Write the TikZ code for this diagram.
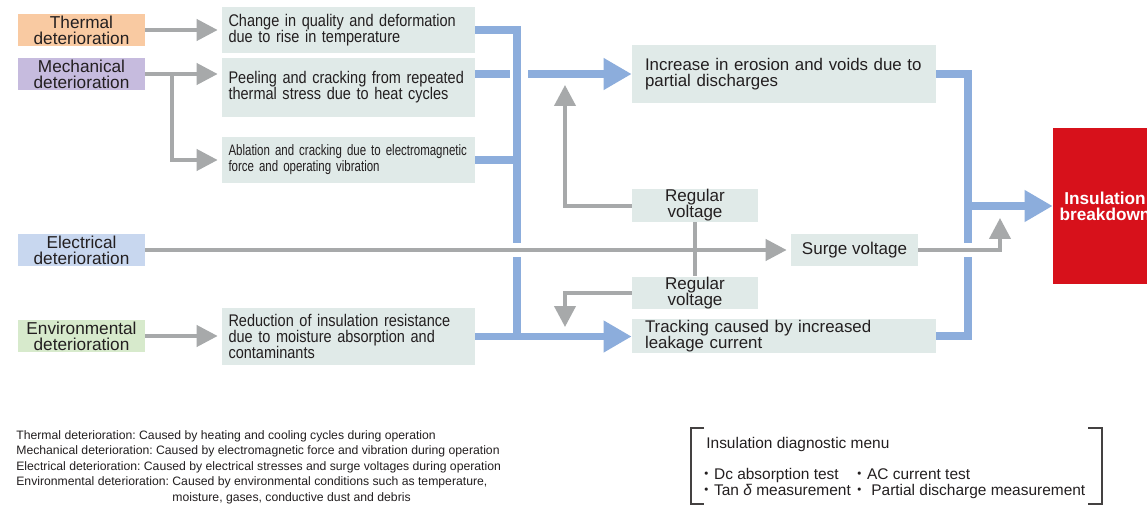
\documentclass[tikz,border=0pt]{standalone}
\usepackage{fontspec}
\setmainfont{Liberation Sans}
\newfontfamily\condfont{Liberation Sans}[FakeStretch=0.86]
\newfontfamily\narrowfont{Liberation Sans}[FakeStretch=0.76]
\newfontfamily\jpfont{Noto Sans CJK JP}
\usetikzlibrary{arrows.meta}

\definecolor{ink}{HTML}{231F20}
\definecolor{thermfill}{HTML}{F9CAA2}
\definecolor{mechfill}{HTML}{C6BBDE}
\definecolor{elecfill}{HTML}{C8D7EF}
\definecolor{envfill}{HTML}{D7EACC}
\definecolor{stagefill}{HTML}{E0EAE8}
\definecolor{busblue}{HTML}{8CADDC}
\definecolor{feedgrey}{HTML}{A7A9AA}
\definecolor{faultred}{HTML}{D7111B}

\newcommand{\mdot}{{\jpfont ・}}

\tikzset{
  cause/.style={minimum width=2.54cm, minimum height=0.66cm, inner sep=0pt,
    align=center, text=ink, font=\fontsize{9.8}{9.1}\selectfont},
  stage/.style={fill=stagefill, text=ink, inner xsep=0.13cm, inner ysep=0pt,
    text width=4.8cm, align=left, font=\condfont\fontsize{9.6}{9.1}\selectfont},
  result/.style={fill=stagefill, text=ink, inner xsep=0.26cm, inner ysep=0pt,
    text width=5.56cm, align=left, font=\fontsize{9.6}{9.1}\selectfont},
  volt/.style={fill=stagefill, text=ink, minimum width=2.52cm, minimum height=0.66cm,
    inner sep=0pt, align=center, font=\fontsize{9.7}{9.1}\selectfont},
  feed/.style={draw=feedgrey, line width=0.08cm, -{Triangle[length=0.42cm, width=0.42cm]}},
  feedbox/.style={feed, shorten >=0.08cm},
  tie/.style={draw=feedgrey, line width=0.08cm},
  flow/.style={draw=busblue, line width=0.15cm},
  flowarrow/.style={flow, -{Triangle[length=0.56cm, width=0.6cm]}},
  bracket/.style={draw=ink!85, line width=0.03cm},
}

\begin{document}
\frenchspacing
\begin{tikzpicture}[x=0.02cm, y=-0.02cm]
  \fill[white] (0,0) rectangle (1147,507);
  \useasboundingbox (0,0) rectangle (1147,507);

  % kinds of deterioration
  \node[cause, fill=thermfill] (therm) at (81.5,30) {Thermal\\deterioration};
  \node[cause, fill=mechfill] (mech) at (81.5,74) {Mechanical\\deterioration};
  \node[cause, fill=elecfill] (elec) at (81.5,250) {Electrical\\deterioration};
  \node[cause, fill=envfill] (env) at (81.5,336) {Environmental\\deterioration};

  % first effects
  \node[stage, minimum height=0.92cm] (chg) at (348.5,30) {Change in quality and deformation\\due to rise in temperature};
  \node[stage, minimum height=1.18cm] (peel) at (348.5,87.5) {Peeling and cracking from repeated\\thermal stress due to heat cycles};
  \node[stage, minimum height=0.92cm, font=\narrowfont\fontsize{8.6}{9.1}\selectfont] (abl) at (348.5,160) {Ablation and cracking due to electromagnetic\\force and operating vibration};
  \node[stage, minimum height=1.14cm] (redu) at (348.5,336.5) {Reduction of insulation resistance\\due to moisture absorption and\\contaminants};

  % second effects
  \node[result, minimum height=1.16cm] (incr) at (784,74) {Increase in erosion and voids due to\\partial discharges};
  \node[result, minimum height=0.68cm] (track) at (784,336) {Tracking caused by increased\\leakage current};
  \node[volt] (reg1) at (695,205.5) {Regular\\voltage};
  \node[volt] (reg2) at (695,293) {Regular\\voltage};
  \node[volt, minimum width=2.54cm] (surge) at (854.5,250) {Surge voltage};
  \node[fill=faultred, text=white, minimum width=2.08cm, minimum height=3.12cm, inner sep=0pt,
    align=center, font=\bfseries\fontsize{9.8}{9.1}\selectfont] (fault) at (1105,206) {Insulation\\breakdown};

  \coordinate (busL) at (517,0);
  \coordinate (busR) at (968,0);
  \coordinate (pdtip) at (565,85);
  \coordinate (trtip) at (565,327);
  \coordinate (bdtip) at (1000,218);

  % blue collecting lines
  \draw[flow] (chg.east) -| ([yshift=0.14cm]busL |- elec.east);
  \draw[flow] ([yshift=-0.14cm]busL |- elec.east) -- (busL |- redu.east);
  \draw[flow] (abl.east) -- (abl.east -| busL);
  \draw[flow] (peel.east |- incr.west) -- ([xshift=-0.14cm]busL |- incr.west);
  \draw[flowarrow] ([xshift=0.22cm]busL |- incr.west) -- (incr.west);
  \draw[flowarrow] (redu.east) -- (redu.east -| track.west);
  \draw[flow] (incr.east) -| ([yshift=0.14cm]busR |- surge.east);
  \draw[flow] ([yshift=-0.14cm]busR |- surge.east) |- (track.east);
  \draw[flowarrow] (busR |- fault.west) -- (fault.west);

  % grey feeds
  \draw[feedbox] (therm.east) -- (therm.east -| chg.west);
  \draw[feedbox] (mech.east) -- (mech.east -| peel.west);
  \draw[feedbox] ([xshift=0.54cm]mech.east) |- (abl.west);
  \draw[feedbox] (env.east) -- (env.east -| redu.west);
  \draw[feedbox] (elec.east) -- (surge.west);
  \draw[tie] (reg1.south) -- (reg2.north);
  \draw[feed] (reg1.west) -| (pdtip);
  \draw[feed] (reg2.west) -| (trtip);
  \draw[feed] (surge.east) -| (bdtip);

  % notes
  \node[anchor=north west, inner sep=0pt, align=left, text=ink, font=\fontsize{6.95}{8.8}\selectfont] (key) at (16,430)
    {Thermal deterioration: Caused by heating and cooling cycles during operation\\
     Mechanical deterioration: Caused by electromagnetic force and vibration during operation\\
     Electrical deterioration: Caused by electrical stresses and surge voltages during operation\\
     Environmental deterioration: Caused by environmental conditions such as temperature,\\
     \phantom{Environmental deterioration: }moisture, gases, conductive dust and debris};

  \node[anchor=north west, inner sep=0pt, align=left, text=ink, font=\fontsize{8.8}{9.1}\selectfont] (menu) at (706,437)
    {Insulation diagnostic menu\\[8.5pt]
     \hspace*{-0.5em}\makebox[3.06cm][l]{\mdot Dc absorption test}\mdot AC current test\\
     \hspace*{-0.5em}\makebox[3.06cm][l]{\mdot Tan \textit{δ} measurement}\mdot\ Partial discharge measurement};
  \draw[bracket] (704,428) -- (691,428) -- (691,504) -- (704,504);
  \draw[bracket] (1088,428) -- (1102,428) -- (1102,504) -- (1088,504);
\end{tikzpicture}
\end{document}
